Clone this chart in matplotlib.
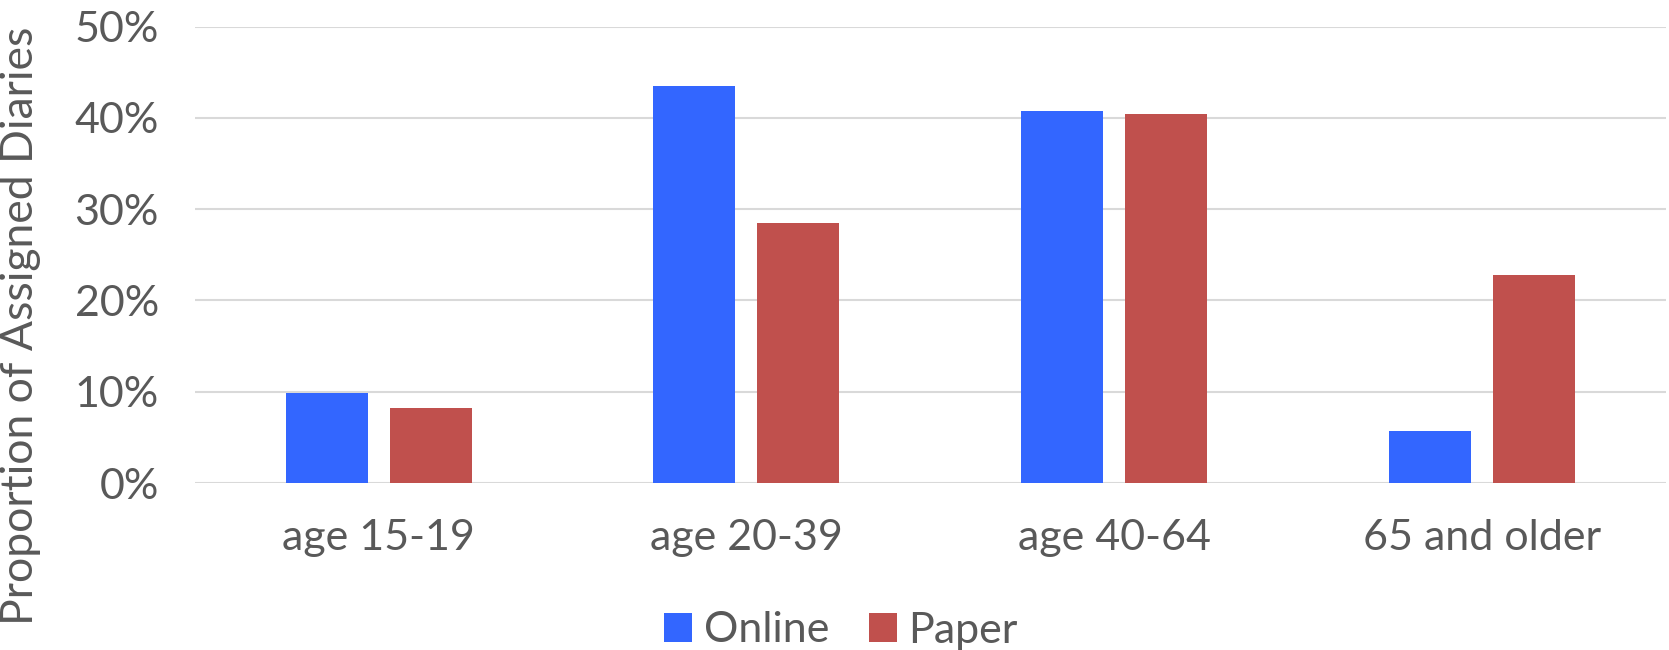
import matplotlib
matplotlib.use("Agg")
import matplotlib.pyplot as plt
import numpy as np

categories = ["age 15-19", "age 20-39", "age 40-64", "65 and older"]
online = [9.9, 43.5, 40.8, 5.7]
paper = [8.2, 28.5, 40.4, 22.8]
yticks = [0, 10, 20, 30, 40, 50]

plt.rcParams['font.family'] = ['Lato', 'DejaVu Sans']
TXT = '#595959'
FS = 31

fig = plt.figure(figsize=(16.69, 6.5), dpi=100)
ax = fig.add_axes([0.1168, 0.2569, 0.8812, 0.7021])

x = np.arange(len(categories))
w = 0.223
off = w / 2 + 0.03
ax.bar(x - off, online, w, color='#3366FF', label='Online', zorder=3)
ax.bar(x + off, paper, w, color='#C0504D', label='Paper', zorder=3)

ax.set_xlim(-0.5, len(categories) - 0.5)
ax.set_ylim(0, 50)
ax.set_yticks(yticks)
ax.set_yticklabels([f"{v}%" for v in yticks])
ax.set_xticks(x)
ax.set_xticklabels(categories)
ax.yaxis.grid(True, color='#d9d9d9', linewidth=1.5, zorder=0)
ax.set_axisbelow(True)
for s in ax.spines.values():
    s.set_visible(False)
ax.tick_params(axis='both', length=0, labelsize=FS, labelcolor=TXT)
ax.tick_params(axis='y', pad=26)
ax.tick_params(axis='x', pad=26)
ax.set_ylabel("Proportion of Assigned Diaries", fontsize=32, color=TXT)
ax.yaxis.set_label_coords(-0.105, 0.345)

leg = fig.legend(loc='center', bbox_to_anchor=(0.504, 0.03), ncol=2, frameon=False,
                 fontsize=FS, handlelength=0.65, handleheight=0.65, handletextpad=0.28,
                 columnspacing=0.9)
for t in leg.get_texts():
    t.set_color(TXT)

fig.savefig("out.png", dpi=100)
